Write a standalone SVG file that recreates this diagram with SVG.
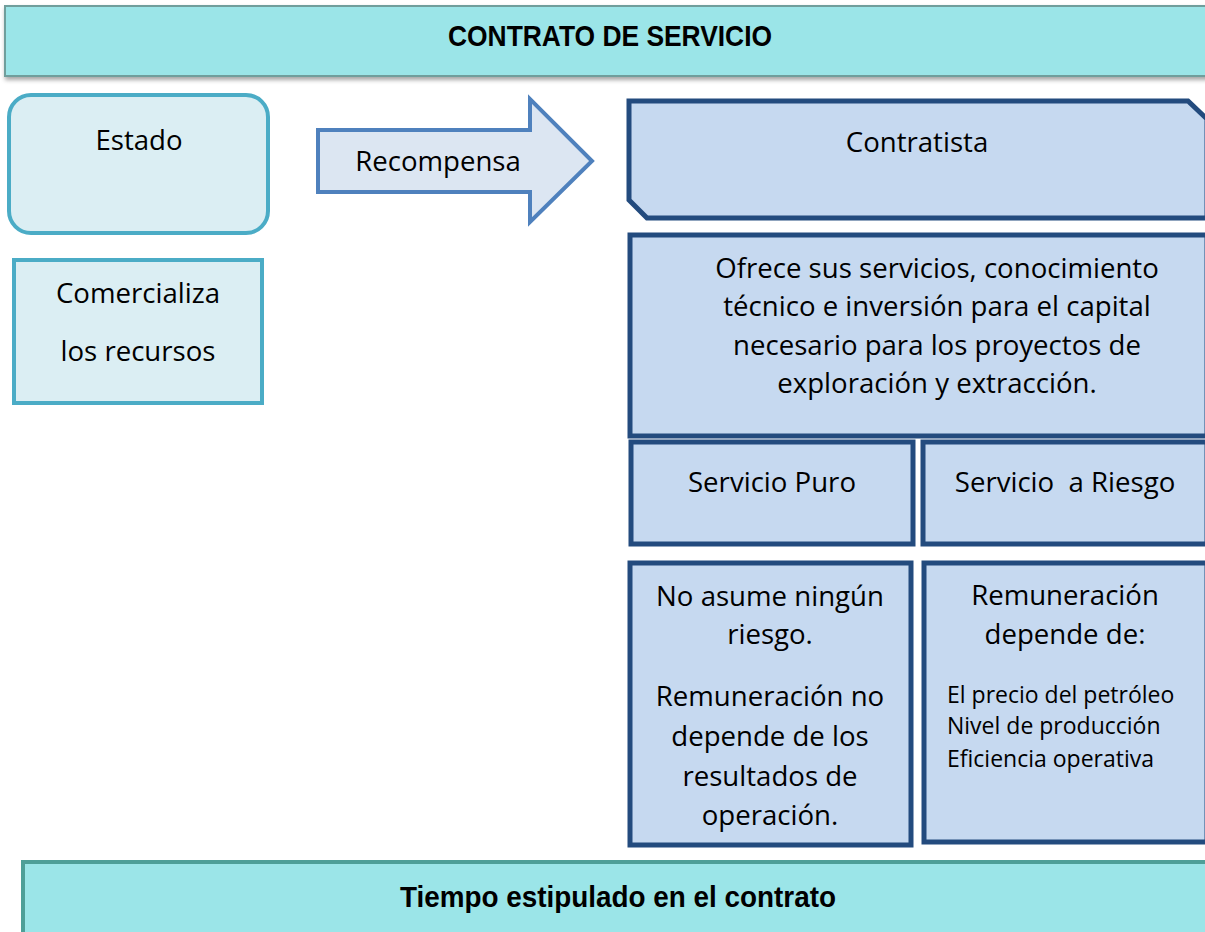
<svg xmlns="http://www.w3.org/2000/svg" width="1205" height="932" viewBox="0 0 1205 932">
<defs>
<style>
.t{font-family:"Open Sans","Liberation Sans",sans-serif;font-size:27.6px;fill:#000;text-anchor:middle}
.s{font-family:"Open Sans","Liberation Sans",sans-serif;font-size:23px;fill:#000}
.b{font-family:"Liberation Sans","Open Sans",sans-serif;font-weight:bold;font-size:30px;fill:#000;text-anchor:middle}
.banner{fill:#9BE5E8}
.teal{fill:#DBEEF3;stroke:#4BACC6;stroke-width:4}
.blue{fill:#C6D9F0;stroke:#234B7E;stroke-width:5}
</style>
<filter id="sh" x="-5%" y="-20%" width="110%" height="150%">
<feDropShadow dx="1" dy="3" stdDeviation="2" flood-color="#000" flood-opacity="0.35"/>
</filter>
</defs>
<rect width="1205" height="932" fill="#fff"/>
<g id="titulo">
<rect x="5" y="6" width="1210" height="70" class="banner" stroke="#6F9E9C" stroke-width="2" filter="url(#sh)"/>
<text x="610" y="46" class="b" textLength="324" lengthAdjust="spacingAndGlyphs">CONTRATO DE SERVICIO</text>
</g>
<g id="estado">
<rect x="9" y="95" width="259" height="138" rx="22" class="teal"/>
<text x="139" y="150" class="t">Estado</text>
</g>
<g id="comercializa">
<rect x="14" y="260" width="248" height="143" class="teal"/>
<text x="138" y="303" class="t">Comercializa</text>
<text x="138" y="361" class="t">los recursos</text>
</g>
<g id="connectors">
<g id="recompensa">
<path d="M318,130 L530,130 L530,99 L592,161 L530,222 L530,192 L318,192 Z" fill="#DCE6F2" stroke="#4F81BD" stroke-width="4"/>
<text x="438" y="171" class="t">Recompensa</text>
</g>
</g>
<g id="contratista">
<path d="M629,101 L1188,101 L1207,119 L1207,218 L647,218 L629,200 Z" class="blue"/>
<text x="917" y="152" class="t">Contratista</text>
</g>
<g id="ofrece">
<rect x="630" y="235" width="577" height="201" class="blue"/>
<text class="t"><tspan x="937" y="278">Ofrece sus servicios, conocimiento</tspan><tspan x="937" y="316">técnico e inversión para el capital</tspan><tspan x="937" y="355">necesario para los proyectos de</tspan><tspan x="937" y="393">exploración y extracción.</tspan></text>
</g>
<g id="servicio-puro">
<rect x="631" y="442" width="282" height="102" class="blue"/>
<text x="772" y="492" class="t">Servicio Puro</text>
</g>
<g id="servicio-riesgo">
<rect x="923" y="442" width="284" height="102" class="blue"/>
<text x="1065" y="492" class="t" xml:space="preserve">Servicio  a Riesgo</text>
</g>
<g id="no-asume">
<rect x="630" y="563" width="281" height="282" class="blue"/>
<text class="t"><tspan x="770" y="606">No asume ningún</tspan><tspan x="770" y="644">riesgo.</tspan><tspan x="770" y="706">Remuneración no</tspan><tspan x="770" y="746">depende de los</tspan><tspan x="770" y="786">resultados de</tspan><tspan x="770" y="825">operación.</tspan></text>
</g>
<g id="remuneracion">
<rect x="924" y="563" width="283" height="279" class="blue"/>
<text class="t"><tspan x="1065" y="605">Remuneración</tspan><tspan x="1065" y="644">depende de:</tspan></text>
<text class="s"><tspan x="947" y="703">El precio del petróleo</tspan><tspan x="947" y="734">Nivel de producción</tspan><tspan x="947" y="767">Eficiencia operativa</tspan></text>
</g>
<g id="tiempo">
<rect x="23" y="862" width="1190" height="80" class="banner" stroke="#4E9F98" stroke-width="4"/>
<text x="618" y="907" class="b" textLength="436" lengthAdjust="spacingAndGlyphs">Tiempo estipulado en el contrato</text>
</g>
</svg>
